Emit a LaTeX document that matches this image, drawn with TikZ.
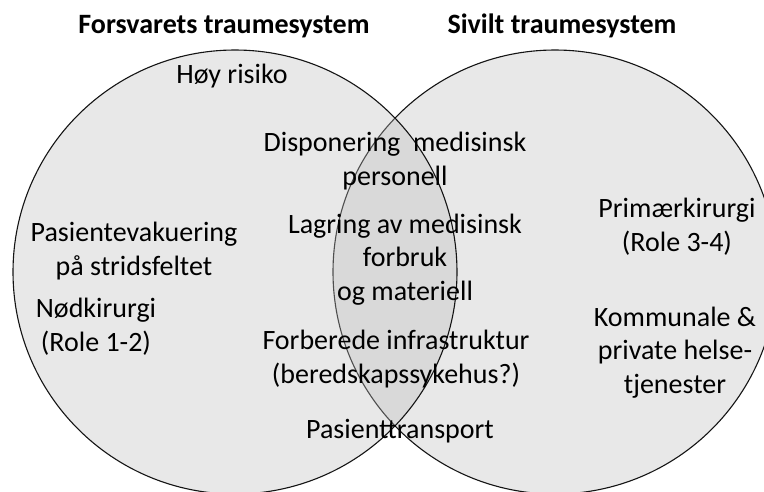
\documentclass[tikz,border=0pt]{standalone}
\usepackage{fontspec}
\setmainfont{Carlito}
\definecolor{vennfill}{RGB}{189,189,189}
\definecolor{vennline}{RGB}{20,20,20}
\begin{document}
\begin{tikzpicture}[x=1pt,y=-1pt,
  setcircle/.style={circle, draw=vennline, line width=1.1pt, fill=vennfill,
    fill opacity=0.35, minimum size=444pt, inner sep=0pt},
  % multi-line items are anchored at the baseline of their last line
  item/.style={font=\fontsize{28}{33.5}\selectfont, align=center, inner sep=0pt, anchor=base},
  heading/.style={font=\fontsize{28}{33}\selectfont\bfseries, inner sep=0pt, anchor=base}]
\clip (0,0) rectangle (764,491);
% the two systems; the military set is drawn last so its translucent fill
% shades the overlap and the civil outline beneath it
\node[setcircle] (civil) at (555,272) {};
\node[setcircle] (military) at (235,272) {};

% headings
\node[heading] (hmil) at (224,33) {Forsvarets traumesystem};
\node[heading] (hciv) at (562,33) {Sivilt traumesystem};

% military only
\node[item] (risk) at (232,83) {Høy risiko};
\node[item] (evac) at (134,275) {Pasientevakuering\\på stridsfeltet};
\node[item] (emerg) at (96,351) {Nødkirurgi\\(Role 1-2)};

% shared
\node[item] (staff) at (395,185) {Disponering\ \ medisinsk\\personell};
\node[item] (stock) at (405,300) {Lagring av medisinsk\\forbruk\\og materiell};
\node[item] (infra) at (396,383) {Forberede infrastruktur\\(beredskapssykehus?)};
\node[item] (transp) at (400,438) {Pasienttransport};

% civil only
\node[item] (prim) at (677,251) {Primærkirurgi\\(Role 3-4)};
\node[item] (local) at (675,393) {Kommunale \&\\private helse-\\tjenester};
\end{tikzpicture}
\end{document}
